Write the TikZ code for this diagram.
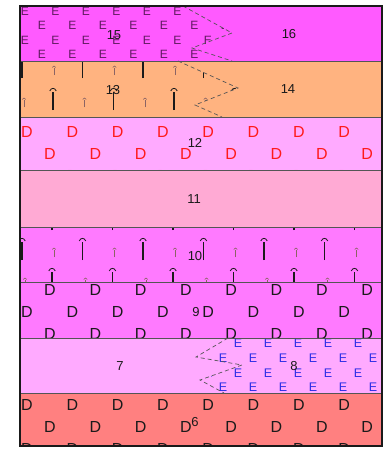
\documentclass[tikz,border=0pt]{standalone}
\usepackage{fontspec}
\setmainfont{Liberation Sans}
\definecolor{Bed16}{HTML}{FF5AFF}
\definecolor{Bed14}{HTML}{FFB380}
\definecolor{Bed12}{HTML}{FFAAFF}
\definecolor{Bed11}{HTML}{FFAAD4}
\definecolor{Bed10}{HTML}{FF7AFF}
\definecolor{Bed6}{HTML}{FF8080}
\definecolor{Ink}{HTML}{1A1A1A}
\definecolor{Edge}{HTML}{555555}
\definecolor{Ash}{HTML}{8C6464}
\definecolor{Plum}{HTML}{601A60}
\definecolor{Blu}{HTML}{2E2EE6}
\definecolor{DRed}{HTML}{FF1A1A}
\newcommand{\bigtuff}[2]{%
  \draw[Ink,line width=1.8pt] ({#1},{#2}) -- ({#1},{#2-18});
  \draw[Ink,line width=0.8pt] ({#1-3.2},{#2-19}) .. controls ({#1-2},{#2-22.5}) and ({#1+2},{#2-22.5}) .. ({#1+3.2},{#2-19});
}
\newcommand{\smalltuff}[2]{%
  \draw[Ash,line width=0.9pt] ({#1},{#2-3}) -- ({#1},{#2-10});
  \draw[Ash,line width=0.6pt] ({#1-1.8},{#2-10.5}) .. controls ({#1-1},{#2-12.5}) and ({#1+1},{#2-12.5}) .. ({#1+1.8},{#2-10.5});
}
\begin{document}
\begin{tikzpicture}[x=1pt,y=-1pt,
  lbl/.style={font=\fontsize{13}{13}\selectfont,text=Ink,inner sep=0pt},
  letE/.style={font=\fontsize{12}{12}\selectfont,inner sep=0pt},
  letD/.style={font=\fontsize{16}{16}\selectfont,inner sep=0pt},
  contact/.style={Edge,line width=0.7pt,dash pattern=on 4pt off 3pt}]
  \useasboundingbox (0,0) rectangle (384,451);
  % beds
  \fill[Bed16] (20,6) rectangle (382,61);
  \fill[Bed14] (20,61) rectangle (382,117);
  \fill[Bed12] (20,117) rectangle (382,170);
  \fill[Bed11] (20,170) rectangle (382,227);
  \fill[Bed10] (20,227) rectangle (382,338);
  \fill[Bed12] (20,338) rectangle (382,393);
  \fill[Bed6] (20,393) rectangle (382,446);
  % 15: E pattern
  \begin{scope}
    \clip (20,6) -- (183,6) -- (232,33) -- (192,48) -- (232,61) -- (20,61) -- cycle;
    \foreach \k in {0,...,6} {
      \node[letE,text=Plum] (ea-\k) at ({25+30.5*\k},11) {E};
      \node[letE,text=Plum] (eb-\k) at ({42+30.5*\k},25) {E};
      \node[letE,text=Plum] (ec-\k) at ({25+30.5*\k},40) {E};
      \node[letE,text=Plum] (ed-\k) at ({42+30.5*\k},54) {E};
    }
  \end{scope}
  % 13: tuff
  \begin{scope}
    \clip (20,61) -- (178,61) -- (238,88) -- (195,105) -- (222,117) -- (20,117) -- cycle;
    \foreach \k in {0,...,3} {
      \bigtuff{22+60.5*\k}{78} \smalltuff{54+60.5*\k}{78}
      \smalltuff{24+60.5*\k}{110} \bigtuff{53+60.5*\k}{110}
    }
  \end{scope}
  % 12: red D
  \begin{scope}
    \clip (20,117) rectangle (382,170);
    \foreach \k in {0,...,7} {
      \node[letD,text=DRed] (da-\k) at ({27+45.3*\k},132) {D};
      \node[letD,text=DRed] (db-\k) at ({50+45.3*\k},154) {D};
      \node[letD,text=DRed] (dc-\k) at ({27+45.3*\k},176) {D};
    }
  \end{scope}
  % 10: tuff
  \begin{scope}
    \clip (20,227) rectangle (382,282);
    \foreach \k in {0,...,5} {
      \smalltuff{25+60.5*\k}{230} \bigtuff{52+60.5*\k}{230}
      \bigtuff{22+60.5*\k}{260} \smalltuff{54+60.5*\k}{260}
      \smalltuff{25+60.5*\k}{290} \bigtuff{52+60.5*\k}{290}
    }
  \end{scope}
  % 9: D
  \begin{scope}
    \clip (20,282) rectangle (382,338);
    \foreach \k in {0,...,7} {
      \node[letD,text=Ink] (dd-\k) at ({50+45.3*\k},290) {D};
      \node[letD,text=Ink] (de-\k) at ({27+45.3*\k},312) {D};
      \node[letD,text=Ink] (df-\k) at ({50+45.3*\k},334) {D};
    }
  \end{scope}
  % 8: blue E
  \begin{scope}
    \clip (228,338) -- (196,357) -- (242,365) -- (200,380) -- (224,393) -- (382,393) -- (382,338) -- cycle;
    \foreach \k in {-1,...,5} {
      \node[letE,font=\fontsize{12.5}{12.5}\selectfont,text=Blu] (eh-\k) at ({238+30*\k},343) {E};
      \node[letE,font=\fontsize{12.5}{12.5}\selectfont,text=Blu] (ei-\k) at ({223+30*\k},358) {E};
      \node[letE,font=\fontsize{12.5}{12.5}\selectfont,text=Blu] (ej-\k) at ({238+30*\k},373) {E};
      \node[letE,font=\fontsize{12.5}{12.5}\selectfont,text=Blu] (ek-\k) at ({223+30*\k},387) {E};
    }
  \end{scope}
  % 6: D
  \begin{scope}
    \clip (20,393) rectangle (382,446);
    \foreach \k in {0,...,7} {
      \node[letD,text=Ink] (dg-\k) at ({27+45.3*\k},405) {D};
      \node[letD,text=Ink] (dh-\k) at ({50+45.3*\k},427) {D};
      \node[letD,text=Ink] (di-\k) at ({27+45.3*\k},449) {D};
    }
  \end{scope}
  % facies contacts
  \draw[contact] (183,6) -- (232,33) -- (192,48) -- (232,61);
  \draw[contact] (178,61) -- (238,88) -- (195,105) -- (222,117);
  \draw[contact] (228,338) -- (196,357) -- (242,365) -- (200,380) -- (224,393);
  \foreach \y in {61,117,170,227,282,338,393}
    \draw[Edge,line width=0.8pt] (20,\y) -- (382,\y);
  \draw[Ink,line width=1.8pt] (20,6) rectangle (382,446);
  % labels
  \node[lbl] (n16) at (289,34) {16};
  \node[lbl] (n15) at (114,35) {15};
  \node[lbl] (n14) at (288,89) {14};
  \node[lbl] (n13) at (113,90) {13};
  \node[lbl] (n12) at (195,143) {12};
  \node[lbl] (n11) at (194,199) {11};
  \node[lbl] (n10) at (195,256) {10};
  \node[lbl] (n9) at (196,312) {9};
  \node[lbl] (n7) at (120,366) {7};
  \node[lbl] (n8) at (294,366) {8};
  \node[lbl] (n6) at (195,422) {6};
\end{tikzpicture}
\end{document}
